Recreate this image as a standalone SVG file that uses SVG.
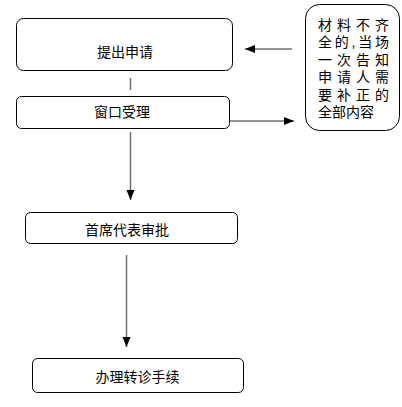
<svg xmlns="http://www.w3.org/2000/svg" width="402" height="407" viewBox="0 0 402 407">
<style>
.box{fill:#fff;stroke:#000;stroke-width:1}
.t{font-family:"Liberation Sans","Noto Sans CJK SC",sans-serif;font-size:14px;fill:#000}
.c{text-anchor:middle}
.ln{stroke:#707070;stroke-width:1.5;fill:none}
</style>
<defs>
<marker id="ah" viewBox="0 0 10 10" refX="10" refY="5" markerWidth="10" markerHeight="10" markerUnits="userSpaceOnUse" orient="auto">
<path d="M0,1 L10,5 L0,9 Z" fill="#000"/>
</marker>
</defs>
<rect width="402" height="407" fill="#fff"/>
<g id="connectors">
<line class="ln" x1="130.5" y1="78" x2="130.5" y2="90"/>
<line class="ln" x1="292" y1="49" x2="245" y2="49" marker-end="url(#ah)"/>
<line class="ln" x1="230" y1="121" x2="294" y2="121" marker-end="url(#ah)"/>
<line class="ln" x1="130.5" y1="132" x2="130.5" y2="200" marker-end="url(#ah)"/>
<line class="ln" x1="126.5" y1="255" x2="126.5" y2="347" marker-end="url(#ah)"/>
</g>
<g id="n1">
<rect class="box" x="16.5" y="18.5" width="216" height="52" rx="7"/>
<text class="t c" x="125" y="57">提出申请</text>
</g>
<g id="n2">
<rect class="box" x="16.5" y="96.5" width="213" height="32" rx="5"/>
<text class="t c" x="122" y="117">窗口受理</text>
</g>
<g id="n3">
<rect class="box" x="25.5" y="212.5" width="212" height="31" rx="5"/>
<text class="t c" x="127" y="235">首席代表审批</text>
</g>
<g id="n4">
<rect class="box" x="32.5" y="358.5" width="211" height="34" rx="5"/>
<text class="t c" x="137.5" y="382">办理转诊手续</text>
</g>
<g id="n5">
<rect class="box" x="305.5" y="4.5" width="94" height="126" rx="14"/>
<text class="t" x="318" y="30" textLength="71" lengthAdjust="spacing">材料不齐</text>
<text class="t" x="318" y="47.4" textLength="71" lengthAdjust="spacing">全的,当场</text>
<text class="t" x="318" y="64.8" textLength="71" lengthAdjust="spacing">一次告知</text>
<text class="t" x="318" y="82.2" textLength="71" lengthAdjust="spacing">申请人需</text>
<text class="t" x="318" y="99.6" textLength="71" lengthAdjust="spacing">要补正的</text>
<text class="t" x="318" y="117">全部内容</text>
</g>
</svg>
